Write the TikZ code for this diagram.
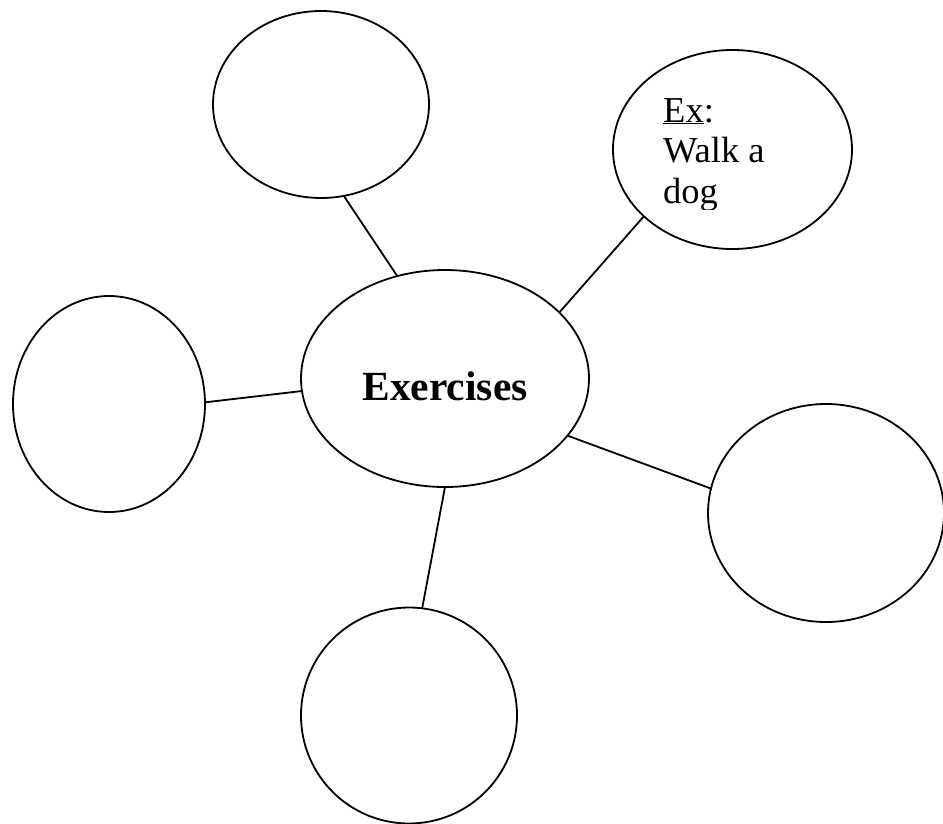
\documentclass[tikz,border=0pt]{standalone}
\usepackage{fontspec}
\setmainfont{Liberation Serif}
\usetikzlibrary{shapes.geometric}
\begin{document}
\begin{tikzpicture}[x=1pt,y=-1pt,
  bubble/.style={draw, ellipse, line width=1.8pt, inner sep=0pt, outer sep=0pt},
  link/.style={line width=1.8pt},
  extext/.style={anchor=base west, inner sep=0pt, font=\fontsize{36.5}{40}\selectfont}]
\useasboundingbox (0,0) rectangle (943,823);
\fill[white] (0,0) rectangle (943,823);
\node[bubble, minimum width=216pt, minimum height=187pt] (tl) at (321,104.5) {};
\node[bubble, minimum width=239pt, minimum height=199pt] (tr) at (732.5,149.5) {};
\node[bubble, minimum width=192pt, minimum height=216pt] (l) at (109,404) {};
\node[bubble, minimum width=288pt, minimum height=217pt,
      font=\fontsize{41.5}{50}\selectfont\bfseries, text height=43pt, text depth=0pt] (c) at (445,378.5) {Exercises};
\node[bubble, minimum width=236pt, minimum height=218pt] (r) at (826,513) {};
\node[bubble, minimum width=216pt, minimum height=216pt] (b) at (409,715.5) {};
\draw[link] (tl.-76) -- (c.115.3);
\draw[link] (tr.-143.7) -- (c.30.3);
\draw[link] (l.1.8) -- (c.185.4);
\draw[link] (r.168) -- (c.-25.4);
\draw[link] (b.83.7) -- (c.-90);
\begin{scope}
  \clip (600,60) rectangle (860,209);
  \node[extext] (ex1) at (663,122) {\underline{Ex}:};
  \node[extext] (ex2) at (663,162.7) {Walk a};
  \node[extext] (ex3) at (663,203.4) {dog};
\end{scope}
\end{tikzpicture}
\end{document}
